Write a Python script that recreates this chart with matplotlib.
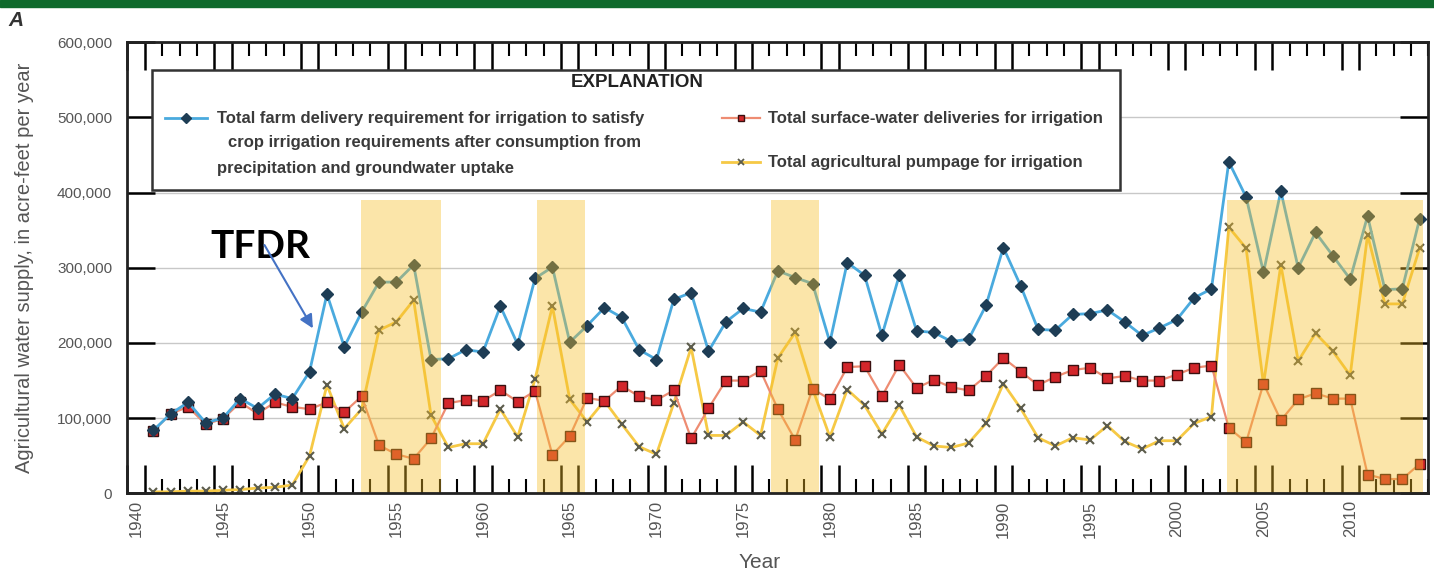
import numpy as np
import matplotlib
matplotlib.use("Agg")
import matplotlib.pyplot as plt
from matplotlib.lines import Line2D
from matplotlib.patches import Rectangle
from matplotlib.ticker import FuncFormatter

plt.rcParams['font.family'] = ['Liberation Sans', 'DejaVu Sans']
NARROW = ['Liberation Sans Narrow', 'Liberation Sans', 'DejaVu Sans']

years = np.arange(1941, 2015)

# acre-feet per year
tfdr = [84000, 106000, 121000, 94000, 100000, 126000, 113000, 132000, 126000, 162000,
        265000, 195000, 241000, 281000, 281000, 304000, 178000, 179000, 191000, 188000,
        249000, 198000, 286000, 301000, 201000, 223000, 247000, 234000, 191000, 178000,
        258000, 267000, 189000, 228000, 246000, 241000, 296000, 287000, 279000, 201000,
        307000, 290000, 210000, 290000, 216000, 214000, 202000, 205000, 250000, 327000,
        276000, 218000, 217000, 238000, 239000, 244000, 228000, 210000, 220000, 231000,
        260000, 272000, 441000, 394000, 294000, 402000, 300000, 347000, 316000, 285000,
        369000, 271000, 272000, 365000]

surface = [83000, 106000, 115000, 92000, 99000, 121000, 106000, 121000, 115000, 112000,
           121000, 108000, 129000, 64000, 52000, 46000, 73000, 120000, 124000, 123000,
           137000, 122000, 136000, 51000, 76000, 127000, 123000, 143000, 129000, 124000,
           137000, 73000, 113000, 150000, 150000, 163000, 112000, 71000, 139000, 125000,
           168000, 169000, 129000, 171000, 140000, 151000, 141000, 137000, 156000, 180000,
           162000, 144000, 155000, 164000, 167000, 153000, 156000, 150000, 150000, 158000,
           167000, 170000, 87000, 68000, 146000, 97000, 125000, 133000, 126000, 126000,
           25000, 19000, 19000, 39000]

pumpage = [2000, 2000, 3000, 3000, 4000, 5000, 7000, 8000, 11000, 50000,
           144000, 86000, 112000, 217000, 228000, 257000, 104000, 61000, 66000, 66000,
           112000, 75000, 152000, 249000, 125000, 95000, 123000, 92000, 62000, 52000,
           120000, 194000, 77000, 77000, 95000, 77000, 180000, 214000, 139000, 75000,
           138000, 117000, 79000, 117000, 75000, 63000, 61000, 67000, 93000, 146000,
           113000, 74000, 63000, 74000, 71000, 90000, 69000, 59000, 70000, 70000,
           93000, 102000, 354000, 326000, 145000, 304000, 176000, 213000, 189000, 157000,
           344000, 252000, 252000, 326000]

# dry periods
dry_start = [1952.95, 1963.1, 1976.6, 2002.9]
dry_end = [1957.55, 1965.9, 1979.4, 2014.2]
dry_top = 390000

label_years = np.arange(1940, 2011, 5)

fig = plt.figure(figsize=(14.34, 5.78), dpi=100)
ax = fig.add_axes([0.0889, 0.1465, 0.9071, 0.7803])

# green band along the top and panel letter
fig.patches.append(Rectangle((0, 1 - 7 / 578), 1, 7 / 578, transform=fig.transFigure,
                             color='#0f6a2c', zorder=0))
fig.text(8 / 1434, 1 - 20 / 578, 'A', fontsize=15, fontweight='bold', style='italic',
         color='#333333', va='center', ha='left')

blue_line, blue_mk = '#4aaade', '#1e3d55'
red_line, red_face, red_edge = '#ee8c72', '#d3262b', '#3a1010'
yel_line, yel_mk = '#f6c945', '#5c5c4c'

ax.plot(years, pumpage, color=yel_line, lw=2, marker='x', ms=6, mec=yel_mk, mew=1.5,
        zorder=2.1)
ax.plot(years, surface, color=red_line, lw=1.6, marker='s', ms=7, mfc=red_face,
        mec=red_edge, mew=1, zorder=2.2)
ax.plot(years, tfdr, color=blue_line, lw=2, marker='D', ms=6, mfc=blue_mk, mec=blue_mk,
        zorder=2.3)

# shading sits over the lines but under the tick marks
for a, b in zip(dry_start, dry_end):
    ax.fill_between([a, b], 0, dry_top, color='#f5be28', alpha=0.4, lw=0, zorder=2.4)

ax.set_xlim(1939.5, 2014.5)
ax.set_ylim(0, 600000)
ax.yaxis.grid(True, color='#c8c8c8', lw=1)

ax.set_yticks(np.arange(0, 600001, 100000))
ax.yaxis.set_major_formatter(FuncFormatter(lambda v, p: f'{int(v):,}'))
ax.tick_params(axis='y', direction='in', length=20, width=1.8, left=True, right=True,
               labelsize=11, labelcolor='#555555', pad=11)

edges = np.arange(1939.5, 2015, 1.0)
ax.set_xticks(np.sort(np.concatenate([label_years - 0.5, label_years + 0.5])))
ax.set_xticks(edges, minor=True)
ax.tick_params(axis='x', which='major', direction='in', length=20, width=1.8,
               top=True, bottom=True, labelbottom=False)
ax.tick_params(axis='x', which='minor', direction='in', length=10, width=1.5,
               top=True, bottom=True)

for s in ax.spines.values():
    s.set_linewidth(2)
    s.set_color('#222222')

sec = ax.secondary_xaxis('bottom')
sec.set_xticks(label_years)
sec.set_xticklabels([str(y) for y in label_years], rotation=90, family=NARROW,
                    fontsize=12, color='#555555')
sec.tick_params(length=0, pad=5)
sec.spines['bottom'].set_visible(False)

ax.set_ylabel('Agricultural water supply, in acre-feet per year', fontsize=14.5,
              color='#555555')
ax.yaxis.set_label_coords(-0.0715, 0.5)
fig.text(760 / 1434, 1 - 562 / 578, 'Year', fontsize=15, color='#555555',
         ha='center', va='center')

# legend box
lx0, lx1, ly0, ly1 = 0.0188, 0.763, 0.6725, 0.9386
ax.add_patch(Rectangle((lx0, ly0), lx1 - lx0, ly1 - ly0, transform=ax.transAxes,
                       fc='white', ec='#333333', lw=1.8, zorder=10))
txt = dict(transform=ax.transAxes, family=NARROW, fontweight='bold', fontsize=12,
           color='#3a3a3a', va='center', ha='left', zorder=11)
ax.text(0.3917, 0.91, 'EXPLANATION',
        **{**txt, 'ha': 'center', 'fontsize': 13.5, 'color': '#222222'})
ax.text(0.0688, 0.832, 'Total farm delivery requirement for irrigation to satisfy', **txt)
ax.text(0.0773, 0.777, 'crop irrigation requirements after consumption from', **txt)
ax.text(0.0688, 0.721, 'precipitation and groundwater uptake', **txt)
ax.text(0.4923, 0.832, 'Total surface-water deliveries for irrigation', **txt)
ax.text(0.4923, 0.7346, 'Total agricultural pumpage for irrigation', **txt)

handles = [
    (0.0288, 0.0611, 0.832, dict(color=blue_line, lw=2),
     dict(marker='D', ms=5.5, mfc=blue_mk, mec=blue_mk)),
    (0.457, 0.486, 0.832, dict(color=red_line, lw=1.6),
     dict(marker='s', ms=5, mfc=red_face, mec=red_edge)),
    (0.457, 0.486, 0.7346, dict(color=yel_line, lw=2),
     dict(marker='x', ms=5, mec=yel_mk, mew=1.3)),
]
for x0, x1, y, lstyle, mstyle in handles:
    ax.add_line(Line2D([x0, x1], [y, y], transform=ax.transAxes, zorder=11,
                       clip_on=False, **lstyle))
    ax.add_line(Line2D([(x0 + x1) / 2], [y], transform=ax.transAxes, zorder=12,
                       clip_on=False, ls='none', **mstyle))

# TFDR callout
ax.text(1947.14, 329000, 'TFDR', family=['Lato', 'DejaVu Sans'], fontweight='bold',
        fontsize=28, color='black', ha='center', va='center', zorder=8)
ax.annotate('', xy=(1950.19, 219500), xytext=(1947.4, 330300),
            arrowprops=dict(arrowstyle='-|>', color='#4472c4', lw=1.5,
                            mutation_scale=20, shrinkA=0, shrinkB=0), zorder=8)

fig.savefig('out.png', dpi=100)
